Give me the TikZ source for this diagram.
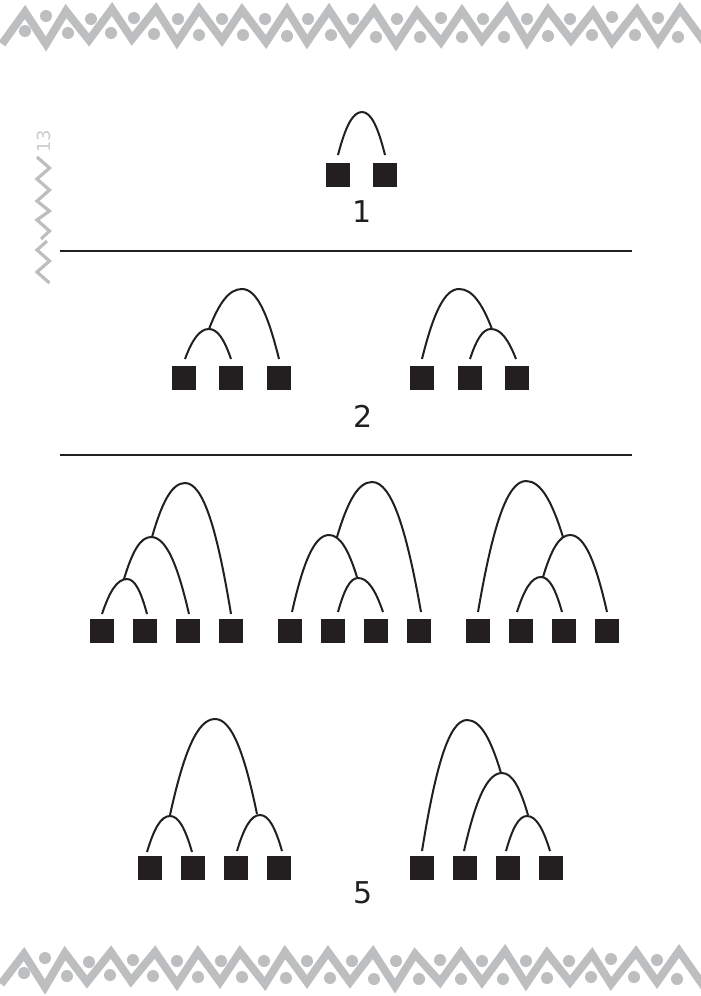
\documentclass[tikz,border=0pt]{standalone}
\usepackage{fontspec}
\setmainfont{DejaVu Sans}
\definecolor{ink}{HTML}{231F20}
\definecolor{band}{HTML}{BCBEC0}
\definecolor{folio}{HTML}{CBCCCE}
\tikzset{
  tile/.style={fill=ink,draw=none,minimum size=24pt,inner sep=0pt,outer sep=0pt,shape=rectangle},
  archline/.style={draw=ink,line width=2pt},
  rulerline/.style={draw=ink,line width=1.5pt},
  zigzag/.style={draw=band,line width=8pt,miter limit=12,line join=miter},
  bead/.style={fill=band,draw=none},
  count/.style={font=\fontsize{30}{30}\selectfont,text=ink,inner sep=0pt}
}
% One arch: rising from a free end, over a bend, down to another free end.
\newcommand{\archpath}[7]{%
  \coordinate (#1s) at (#2,#3);
  \coordinate (#1p) at (#4,#5);
  \coordinate (#1e) at (#6,#7);
  \pgfmathsetmacro{\archA}{#2+(#4-#2)*0.3}
  \pgfmathsetmacro{\archB}{#3+(#5-#3)*0.64}
  \pgfmathsetmacro{\archC}{#4-(#4-#2)*0.4}
  \pgfmathsetmacro{\archD}{#4+(#6-#4)*0.4}
  \pgfmathsetmacro{\archE}{#6-(#6-#4)*0.3}
  \pgfmathsetmacro{\archF}{#7+(#5-#7)*0.64}
  \draw[archline] (#1s) .. controls (\archA,\archB) and (\archC,#5) .. (#1p)
    .. controls (\archD,#5) and (\archE,\archF) .. (#1e);
}
\begin{document}
\begin{tikzpicture}[x=1pt,y=-1pt]
\useasboundingbox (0,0) rectangle (701,996);
\fill[white] (0,0) rectangle (701,996);

% Ornamental bands along the top and bottom edges
\begin{scope}
\clip (0,0) rectangle (701,996);
\draw[zigzag] (2,44) -- (25,12) -- (46,44) -- (66,11) -- (89,40) -- (112,9) -- (132,39) -- (156,9) -- (177,42) -- (199,9) -- (222,40) -- (242,10) -- (266,42) -- (287,10) -- (307,42) -- (329,10) -- (350,42) -- (374,10) -- (396,44) -- (417,12) -- (441,42) -- (462,11) -- (482,40) -- (507,8) -- (527,42) -- (548,10) -- (571,40) -- (593,12) -- (612,42) -- (637,10) -- (658,42) -- (680,9) -- (708,47);
\foreach \cx/\cy in {25/31,46/16,68/33,91/19,111/33,134/18,154/34,178/19,199/35,222/19,243/35,265/19,287/36,308/19,331/35,353/19,376/37,397/19,420/37,441/18,462/37,483/19,504/37,527/19,548/36,570/19,592/35,612/17,635/35,658/18,678/37}
  \fill[bead] (\cx,\cy) circle (6);
\draw[zigzag] (1,984) -- (24,954) -- (45,987) -- (65,953) -- (87,982) -- (111,952) -- (131,981) -- (155,952) -- (177,984) -- (198,952) -- (220,982) -- (240,952) -- (265,984) -- (285,952) -- (307,982) -- (328,952) -- (350,982) -- (373,952) -- (395,986) -- (415,954) -- (440,982) -- (461,953) -- (482,982) -- (505,951) -- (526,984) -- (547,953) -- (570,982) -- (592,954) -- (611,984) -- (636,952) -- (657,982) -- (679,951) -- (705,988);
\foreach \cx/\cy in {24/973,45/958,67/976,89/962,110/975,133/960,153/976,177/961,198/977,221/961,242/977,264/961,286/978,307/961,330/978,352/961,374/979,396/961,419/979,440/960,461/979,482/961,503/979,526/961,547/978,569/961,591/977,611/959,634/977,657/960,677/979}
  \fill[bead] (\cx,\cy) circle (6);
\end{scope}

% Page mark in the margin
\node[rotate=90,text=folio,font=\fontsize{18}{18}\selectfont,inner sep=0pt] (folio) at (44,141) {13};
\draw[band,line width=3.2pt,miter limit=12] (37,157) -- (49.5,168) -- (37,179) -- (49.5,190) -- (37,201) -- (49.5,211) -- (37,220) -- (49.5,231) -- (41,239);
\draw[band,line width=3.2pt,miter limit=12] (47,241) -- (37,250) -- (49.5,261) -- (37,272) -- (49.5,283);

% Horizontal rules
\coordinate (ruleAl) at (60,251); \coordinate (ruleAr) at (632,251);
\coordinate (ruleBl) at (60,455); \coordinate (ruleBr) at (632,455);
\draw[rulerline] (ruleAl) -- (ruleAr);
\draw[rulerline] (ruleBl) -- (ruleBr);

% Group 1
\node[tile] (a1) at (338,175) {};
\node[tile] (a2) at (385,175) {};
\archpath{aa}{338}{155}{362}{112}{385}{155}
\node[count] (lblOne) at (362,212) {1};

% Group 2
\foreach \n/\cx in {b1/184,b2/231,b3/279,c1/422,c2/470,c3/517}
  \node[tile] (\n) at (\cx,378) {};
\archpath{ba}{185}{359}{209}{329}{231}{359}
\archpath{bb}{209}{329}{242}{289}{279}{359}
\archpath{ca}{422}{359}{459}{289}{492}{329}
\archpath{cb}{470}{359}{491}{329}{516}{359}
\node[count] (lblTwo) at (363,416) {2};

% Group 3
\foreach \n/\cx in {d1/102,d2/145,d3/188,d4/231,e1/290,e2/333,e3/376,e4/419,f1/478,f2/521,f3/564,f4/607}
  \node[tile] (\n) at (\cx,631) {};
\archpath{da}{102}{614}{127}{579}{147}{614}
\archpath{db}{124}{579}{151}{537}{189}{614}
\archpath{dc}{152}{537}{185}{483}{231}{614}
\archpath{ea}{292}{612}{329}{535}{357}{577}
\archpath{eb}{338}{612}{358}{578}{383}{612}
\archpath{ec}{337}{537}{372}{482}{421}{612}
\archpath{fa}{478}{612}{526}{481}{563}{537}
\archpath{fb}{517}{612}{541}{577}{562}{612}
\archpath{fc}{543}{577}{570}{535}{607}{612}

% Group 4
\foreach \n/\cx in {g1/150,g2/193,g3/236,g4/279,h1/422,h2/465,h3/508,h4/551}
  \node[tile] (\n) at (\cx,868) {};
\archpath{ga}{147}{852}{170}{816}{192}{852}
\archpath{gb}{237}{851}{260}{815}{282}{851}
\archpath{gc}{170}{815}{215}{719}{257}{814}
\archpath{ha}{422}{851}{467}{720}{501}{773}
\archpath{hb}{464}{851}{502}{773}{528}{815}
\archpath{hc}{506}{851}{527}{816}{550}{851}
\node[count] (lblFive) at (363,893) {5};
\end{tikzpicture}
\end{document}
